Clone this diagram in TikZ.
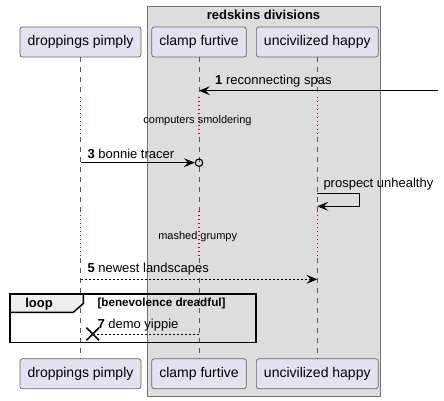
\documentclass[tikz,border=0pt]{standalone}
\usepackage{fontspec}
\setmainfont{Liberation Sans}
\usepackage{tikz}
\usetikzlibrary{arrows.meta,shapes.misc}
\usetikzlibrary{positioning}
\definecolor{partfill}{HTML}{E2E2F0}
\definecolor{boxfill}{HTML}{DDDDDD}
\definecolor{tabfill}{HTML}{EEEEEE}
\definecolor{delayred}{HTML}{C0004A}
\tikzset{
    participant/.style={
           rectangle,
           rounded corners=2.5pt,
           draw=gray!80!black, line width=0.7pt,
           fill=partfill,
           minimum height=30pt,
           inner xsep=7.6pt, inner ysep=0pt,
           font=\fontsize{14}{16}\selectfont,
           text centered,
           },
    groupbox/.style={draw=gray!90!black, line width=0.8pt, fill=boxfill},
    grouptitle/.style={inner sep=0pt, font=\bfseries\fontsize{13}{15}\selectfont},
    lifeline/.style={draw=gray!70!black, line width=0.6pt, dash pattern=on 5pt off 5pt},
    delayline/.style={draw=delayred, line width=1.1pt, dash pattern=on 1.1pt off 2.9pt},
    msg/.style={-{Stealth[length=11pt,width=9pt,inset=4.5pt]}, line width=0.9pt},
    reply/.style={line width=0.9pt, dash pattern=on 2pt off 2pt},
    msgtext/.style={anchor=west, inner sep=0pt, font=\fontsize{13}{15}\selectfont},
    delaytext/.style={inner sep=0pt, font=\fontsize{11}{13}\selectfont},
    lostend/.style={circle, draw, line width=1.1pt, minimum size=7.4pt, inner sep=0pt},
    killmark/.style={cross out, draw, line width=1.6pt, minimum size=11pt, inner sep=0pt},
    frame/.style={draw=black, line width=1.5pt},
    frametitle/.style={inner sep=0pt, font=\bfseries\fontsize{13}{15}\selectfont},
    guardtext/.style={anchor=west, inner sep=0pt, font=\bfseries\fontsize{11.7}{13}\selectfont},
}

\begin{document}
\begin{tikzpicture}[x=1pt,y=-1pt]
    \useasboundingbox (0,0) rectangle (444,400);

    \draw[groupbox] (147,6) rectangle (380,396);
    \node[grouptitle] (G) at (263.5,15) {redskins divisions};

    \node[participant] (D-top) at (80.5,42) {droppings pimply};
    \node[participant,right=10pt of D-top] (C-top) {clamp furtive};
    \node[participant,right=9.4pt of C-top] (U-top) {uncivilized happy};

    \node[participant,below=301pt of D-top] (D-bot) {droppings pimply};
    \node[participant,below=301pt of C-top] (C-bot) {clamp furtive};
    \node[participant,below=301pt of U-top] (U-bot) {uncivilized happy};

    \foreach \p in {D,C,U}{
        \draw[lifeline]  (\p-top) -- (\p-top |- 0,97);
        \draw[delayline] (\p-top |- 0,97) -- (\p-top |- 0,137);
        \draw[lifeline]  (\p-top |- 0,137) -- (\p-top |- 0,211);
        \draw[delayline] (\p-top |- 0,211) -- (\p-top |- 0,258);
        \draw[lifeline]  (\p-top |- 0,258) -- (\p-bot);
    }

    \coordinate (in1) at (438,90.7);
    \coordinate (m1) at (C-top |- 0,90.7);
    \draw[msg] (in1) -- (m1);
    \node[msgtext] (t1) at (215,81.5) {\textbf{1} reconnecting spas};

    \node[delaytext] (d1) at (197.5,120.7) {computers smoldering};

    \coordinate (m3) at (D-top |- 0,162.7);
    \node[lostend] (o3) at (C-top |- 0,162.7) {};
    \draw[msg] (m3) -- (o3.west);
    \node[msgtext] (t3) at (87.3,154.3) {\textbf{3} bonnie tracer};

    \coordinate (s4a) at (U-top |- 0,193.3);
    \coordinate (s4b) at (U-top |- 0,206.3);
    \draw[msg] (s4a) -- ++(42.2,0) |- (s4b);
    \node[msgtext] (t4) at (323.3,184.3) {prospect unhealthy};

    \node[delaytext] (d2) at (197.7,236.7) {mashed grumpy};

    \coordinate (m5a) at (D-top |- 0,279.3);
    \coordinate (m5b) at (U-top |- 0,279.3);
    \draw[msg,reply] (m5a) -- (m5b);
    \node[msgtext] (t5) at (87.3,269.3) {\textbf{5} newest landscapes};

    \draw[frame] (10,294) rectangle (256,342.3);
    \draw[frame,fill=tabfill] (10,294) -- (83.3,294) -- (83.3,303.5) -- (73.3,312.3) -- (10,312.3) -- cycle;
    \node[frametitle] (L) at (39,304) {loop};
    \node[guardtext] (Gd) at (97.3,303.3) {[benevolence dreadful]};

    \node[killmark] (X7) at (92.7,334) {};
    \coordinate (m7) at (C-top |- 0,334);
    \draw[reply] (m7) -- (X7.center);
    \node[msgtext] (t7) at (97.3,325.3) {\textbf{7} demo yippie};

\end{tikzpicture}
\end{document}
